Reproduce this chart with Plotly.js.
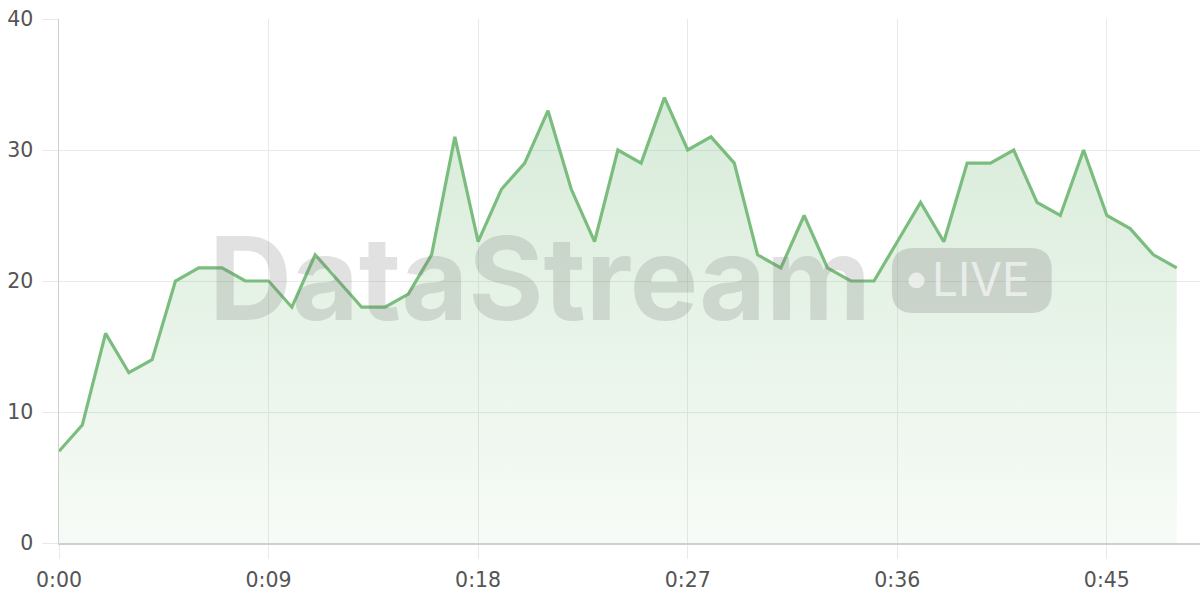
<!DOCTYPE html>
<html><head><meta charset="utf-8">
<script src="https://cdn.plot.ly/plotly-3.0.1.min.js"></script>
<style>html,body{margin:0;padding:0;background:#fff}#chart{width:1200px;height:600px}</style>
</head><body><div id="chart"></div>
<script>
const seconds = [0,1,2,3,4,5,6,7,8,9,10,11,12,13,14,15,16,17,18,19,20,21,22,23,24,25,26,27,28,29,30,31,32,33,34,35,36,37,38,39,40,41,42,43,44,45,46,47,48];
const values = [7,9,16,13,14,20,21,21,20,20,18,22,20,18,18,19,22,31,23,27,29,33,27,23,30,29,34,30,31,29,22,21,25,21,20,20,23,26,23,29,29,30,26,25,30,25,24,22,21];
const xTickVals = [0,9,18,27,36,45];
const xTickText = ['0:00','0:09','0:18','0:27','0:36','0:45'];
const yTickVals = [0,10,20,30,40];

const trace = {
  x: seconds, y: values, type: 'scatter', mode: 'lines',
  line: {color: '#7bbd7e', width: 3.2},
  fill: 'tozeroy',
  fillcolor: 'rgba(123,189,126,0.2)',
  fillgradient: {type: 'vertical', colorscale: [[0, 'rgba(123,189,126,0.06)'], [1, 'rgba(123,189,126,0.3)']]},
  hoverinfo: 'skip'
};

// badge geometry (paper units)
const bx0 = 0.730, bx1 = 0.870, by0 = 0.439, by1 = 0.563, rx = 0.019, ry = 0.041;
const badgePath = `M ${bx0+rx},${by0} L ${bx1-rx},${by0} Q ${bx1},${by0} ${bx1},${by0+ry} L ${bx1},${by1-ry} Q ${bx1},${by1} ${bx1-rx},${by1} L ${bx0+rx},${by1} Q ${bx0},${by1} ${bx0},${by1-ry} L ${bx0},${by0+ry} Q ${bx0},${by0} ${bx0+rx},${by0} Z`;

const tickFont = {family: '"DejaVu Sans", sans-serif', size: 20.5, color: '#555'};

const layout = {
  width: 1200, height: 600,
  margin: {l: 59, r: 0, t: 19, b: 57},
  paper_bgcolor: '#fff', plot_bgcolor: '#fff',
  showlegend: false,
  font: {family: '"DejaVu Sans", sans-serif', color: '#555', size: 20},
  xaxis: {
    range: [0, 49], tickvals: xTickVals, ticktext: xTickText,
    showgrid: true, gridcolor: '#e9e9e9', gridwidth: 1,
    ticks: 'outside', ticklen: 14, tickcolor: '#e9e9e9', tickwidth: 1,
    showline: true, linecolor: '#cfcfcf', linewidth: 1.5,
    zeroline: false, tickfont: tickFont, ticklabelstandoff: 4, fixedrange: true
  },
  yaxis: {
    range: [0, 40], tickvals: yTickVals,
    showgrid: true, gridcolor: '#e9e9e9', gridwidth: 1,
    ticks: 'outside', ticklen: 16, tickcolor: '#e9e9e9', tickwidth: 1,
    showline: true, linecolor: '#cfcfcf', linewidth: 1.5,
    zeroline: false, tickfont: tickFont, ticklabelstandoff: 4, fixedrange: true
  },
  shapes: [
    {type: 'path', xref: 'paper', yref: 'paper', path: badgePath, fillcolor: 'rgba(140,140,140,0.3)', line: {width: 0}, layer: 'above'},
    {type: 'circle', xref: 'paper', yref: 'paper', x0: 0.7445, x1: 0.7585, y0: 0.486, y1: 0.516, fillcolor: 'rgba(255,255,255,0.6)', line: {width: 0}, layer: 'above'}
  ],
  annotations: [
    {xref: 'paper', yref: 'paper', x: 0.4216, y: 0.505, text: '<b>DataStream</b>', showarrow: false,
     font: {family: 'Inter, "Open Sans", sans-serif', size: 115, color: 'rgba(120,120,120,0.22)'}, xanchor: 'center', yanchor: 'middle'},
    {xref: 'paper', yref: 'paper', x: 0.7635, y: 0.503, text: 'LIVE', showarrow: false,
     font: {family: 'Inter, "Open Sans", sans-serif', size: 46, color: 'rgba(255,255,255,0.6)'}, xanchor: 'left', yanchor: 'middle'}
  ]
};

Plotly.newPlot('chart', [trace], layout, {displayModeBar: false, staticPlot: true});
</script></body></html>
